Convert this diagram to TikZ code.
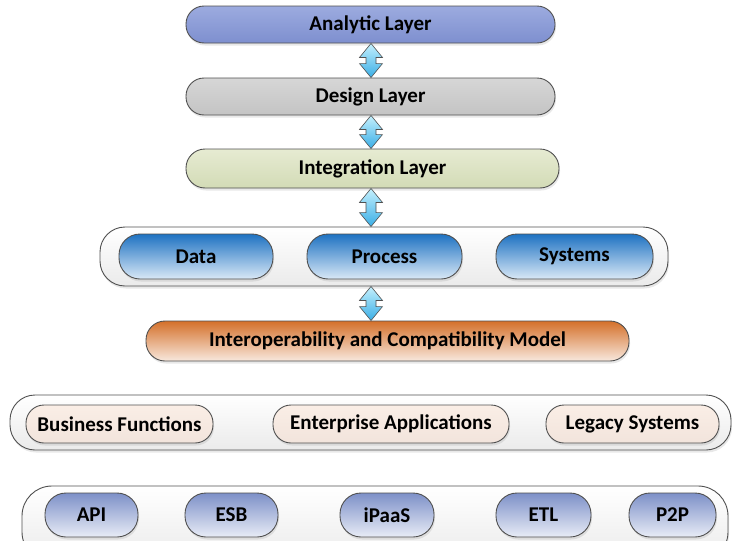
\documentclass[tikz,border=0pt]{standalone}
\usepackage{fontspec}
\setmainfont{Carlito}
\usetikzlibrary{shadows,calc}

\definecolor{edge}{HTML}{505050}

% double-headed block arrow between two stacked nodes, on the vertical spine
\newcommand\dualarrow[2]{%
  \path[blockarrow] let \p1=(spine), \p2=(#1.south), \p3=(#2.north) in
    (\x1,\y2) -- (\x1+11.5pt,\y2-14pt) -- (\x1+5pt,\y2-14pt)
    -- (\x1+5pt,\y3+14pt) -- (\x1+11.5pt,\y3+14pt) -- (\x1,\y3)
    -- (\x1-11.5pt,\y3+14pt) -- (\x1-5pt,\y3+14pt)
    -- (\x1-5pt,\y2-14pt) -- (\x1-11.5pt,\y2-14pt) -- cycle;}

\definecolor{analyticA}{HTML}{9CABDF}
\definecolor{analyticB}{HTML}{7E8FCF}
\definecolor{designA}{HTML}{D6D6D6}
\definecolor{designB}{HTML}{C4C4C4}
\definecolor{integA}{HTML}{E6EBD2}
\definecolor{integB}{HTML}{D3DBB6}
\definecolor{blueA}{HTML}{1E72C2}
\definecolor{blueB}{HTML}{D9E8F6}
\definecolor{interopA}{HTML}{D4702A}
\definecolor{interopB}{HTML}{F8E8DD}
\definecolor{peachA}{HTML}{FAEEE6}
\definecolor{peachB}{HTML}{F2E4DC}
\definecolor{techA}{HTML}{7D90C8}
\definecolor{techB}{HTML}{E8ECF6}
\definecolor{arrowA}{HTML}{C4F0FD}
\definecolor{arrowB}{HTML}{3AAEE6}

\begin{document}
\begin{tikzpicture}[x=1pt,y=-1pt,
  pill/.style={draw=edge, line width=0.9pt, inner sep=0pt,
    font=\fontsize{21}{24}\selectfont\bfseries,
    drop shadow={opacity=0.18, shadow xshift=1pt, shadow yshift=-2.5pt}},
  holder/.style={pill, top color=white, bottom color=black!8},
  analytic/.style={pill, top color=analyticA, bottom color=analyticB},
  design/.style={pill, top color=designA, bottom color=designB},
  integ/.style={pill, top color=integA, bottom color=integB},
  blue/.style={pill, top color=blueA, bottom color=blueB},
  interop/.style={pill, top color=interopA, bottom color=interopB},
  peach/.style={pill, top color=peachA, bottom color=peachB},
  tech/.style={pill, top color=techA, bottom color=techB},
  blockarrow/.style={draw=edge, line width=0.6pt, top color=arrowA, bottom color=arrowB},
]

\useasboundingbox (0,0) rectangle (732,541);
\clip (0,0) rectangle (732,541);
\fill[white] (0,0) rectangle (732,541);

\coordinate (spine) at (371,0);

% layer stack
\node[analytic, minimum width=369, minimum height=37, rounded corners=18] (analytic) at (370.5,24.5) {Analytic Layer};
\node[design, minimum width=369, minimum height=37, rounded corners=18] (design) at (370.5,96.5) {Design Layer};
\node[integ, minimum width=373, minimum height=39, rounded corners=19] (integ) at (372.5,168.5) {Integration Layer};

% data / process / systems group
\node[holder, minimum width=568, minimum height=59, rounded corners=25] (group) at (384,256.5) {};
\node[blue, minimum width=154, minimum height=45, rounded corners=21] (data) at (196,256.5) {Data};
\node[blue, minimum width=155, minimum height=45, rounded corners=21] (process) at (384.5,256.5) {Process};
\node[blue, minimum width=157, minimum height=45, rounded corners=21] (systems) at (574.5,256.5) {Systems};

\node[interop, minimum width=483, minimum height=40, rounded corners=19] (interop) at (387.5,341) {Interoperability and Compatibility Model};

% application landscape
\node[holder, minimum width=721, minimum height=55, rounded corners=25] (apps) at (370.5,422.5) {};
\node[peach, minimum width=187, minimum height=38, rounded corners=18] (business) at (119.5,424) {Business Functions};
\node[peach, minimum width=236, minimum height=38, rounded corners=18] (enterprise) at (391,424) {Enterprise Applications};
\node[peach, minimum width=173, minimum height=38, rounded corners=18] (legacy) at (632.5,424) {Legacy Systems};

% integration technologies
\node[holder, minimum width=706, minimum height=76, rounded corners=30] (techs) at (375,524) {};
\node[tech, minimum width=93, minimum height=44, rounded corners=21] (api) at (91.5,515) {API};
\node[tech, minimum width=93, minimum height=44, rounded corners=21] (esb) at (231.5,515) {ESB};
\node[tech, minimum width=94, minimum height=44, rounded corners=21] (ipaas) at (387,515) {iPaaS};
\node[tech, minimum width=95, minimum height=44, rounded corners=21] (etl) at (543.5,515) {ETL};
\node[tech, minimum width=87, minimum height=44, rounded corners=21] (p2p) at (672.5,515) {P2P};

% connectors between the layers
\dualarrow{analytic}{design}
\dualarrow{design}{integ}
\dualarrow{integ}{group}
\dualarrow{group}{interop}
\end{tikzpicture}
\end{document}
